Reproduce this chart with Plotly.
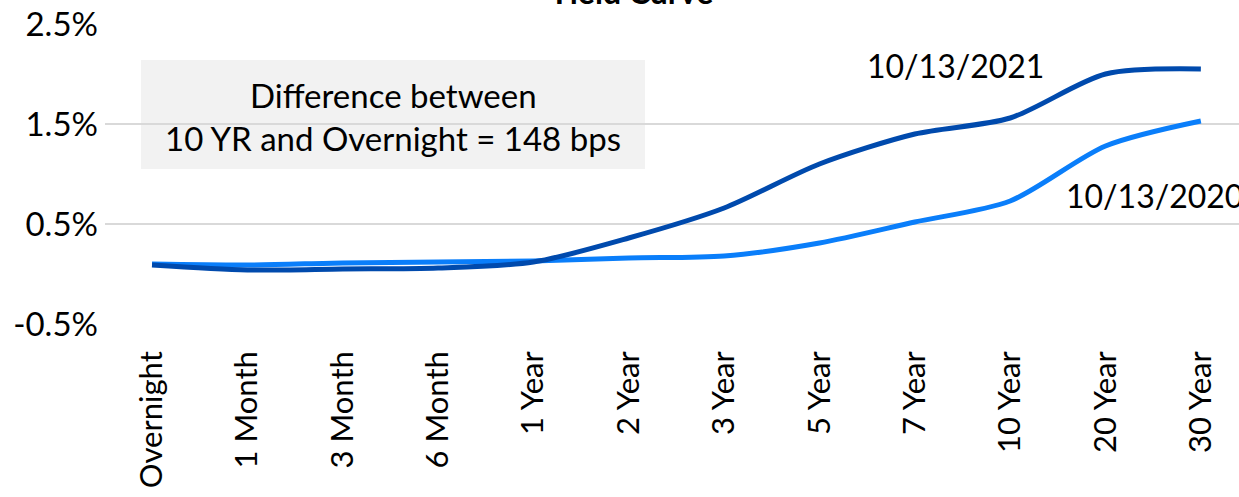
import plotly.graph_objects as go

categories = ["Overnight", "1 Month", "3 Month", "6 Month", "1 Year", "2 Year",
              "3 Year", "5 Year", "7 Year", "10 Year", "20 Year", "30 Year"]
yield_2021 = [0.09, 0.04, 0.05, 0.06, 0.12, 0.36, 0.66, 1.10, 1.40, 1.56, 2.00, 2.05]
yield_2020 = [0.10, 0.09, 0.11, 0.12, 0.13, 0.16, 0.18, 0.31, 0.52, 0.73, 1.28, 1.53]
y_ticks = [-0.5, 0.5, 1.5, 2.5]
y_tick_labels = ["-0.5%", "0.5%", "1.5%", "2.5%"]

FONT = "Lato"
x_idx = list(range(len(categories)))

fig = go.Figure()
fig.add_trace(go.Scatter(x=x_idx, y=yield_2020, mode="lines", name="10/13/2020",
                         line=dict(color="#0A7EFA", width=5, shape="spline", smoothing=0.8)))
fig.add_trace(go.Scatter(x=x_idx, y=yield_2021, mode="lines", name="10/13/2021",
                         line=dict(color="#004AAD", width=5, shape="spline", smoothing=0.8)))

# grey text box
fig.add_shape(type="rect", xref="x", yref="y", x0=-0.115, x1=5.17, y0=1.05, y1=2.14,
              fillcolor="#F2F2F2", line=dict(width=0), layer="below")
fig.add_annotation(x=2.53, y=1.79, xref="x", yref="y", text="Difference between",
                   showarrow=False, font=dict(family=FONT, size=33, color="#000000"))
fig.add_annotation(x=2.53, y=1.36, xref="x", yref="y", text="10 YR and Overnight = 148 bps",
                   showarrow=False, font=dict(family=FONT, size=33, color="#000000"))

fig.add_annotation(x=7.48, y=2.09, xref="x", yref="y", text="10/13/2021", xanchor="left",
                   showarrow=False, font=dict(family=FONT, size=32, color="#000000"))
fig.add_annotation(x=9.56, y=0.79, xref="x", yref="y", text="10/13/2020", xanchor="left",
                   showarrow=False, font=dict(family=FONT, size=32, color="#000000"))

# title (partly cut at the top edge, as in the reference)
fig.add_annotation(xref="paper", yref="paper", x=(630 - 105) / 1134, y=(323 - 13) / 299,
                   yanchor="bottom", text="<b>Yield Curve</b>", showarrow=False,
                   font=dict(family=FONT, size=32, color="#000000"))

fig.update_layout(
    width=1239, height=497,
    margin=dict(l=105, r=0, t=24, b=173),
    paper_bgcolor="white", plot_bgcolor="white",
    showlegend=False,
    font=dict(family=FONT, size=31, color="#000000"),
    xaxis=dict(range=[-0.493, 11.40], tickmode="array", tickvals=x_idx, ticktext=categories,
               tickangle=-90, showgrid=False, zeroline=False, showline=False, ticks="",
               ticklabelstandoff=20, tickfont=dict(family=FONT, size=31, color="#000000")),
    yaxis=dict(range=[-0.5, 2.5], tickmode="array", tickvals=y_ticks, ticktext=y_tick_labels,
               showgrid=True, gridcolor="#D9D9D9", gridwidth=1.5, zeroline=False, showline=False,
               ticks="", ticklabelstandoff=6, tickfont=dict(family=FONT, size=33, color="#000000")),
)

fig.write_html("out.html")
